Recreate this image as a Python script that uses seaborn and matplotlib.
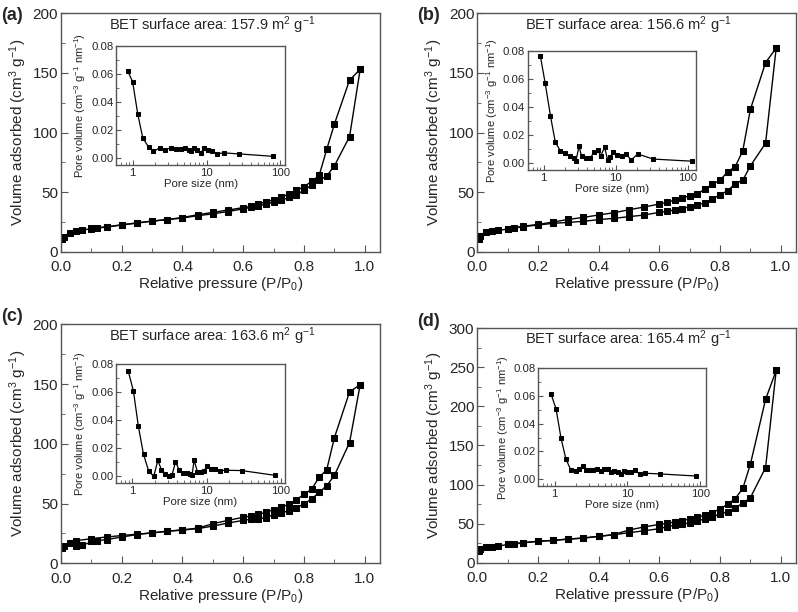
import numpy as np
import seaborn as sns
import matplotlib.pyplot as plt
from matplotlib.ticker import MultipleLocator

sns.set_style("ticks")
plt.rcParams['font.family'] = ['Liberation Sans', 'DejaVu Sans']
plt.rcParams['mathtext.fontset'] = 'custom'
plt.rcParams['mathtext.rm'] = 'Liberation Sans'
plt.rcParams['mathtext.it'] = 'Liberation Sans:italic'
plt.rcParams['mathtext.default'] = 'regular'

# relative pressure points
p_ads = [0.005, 0.01, 0.03, 0.05, 0.07, 0.1, 0.12, 0.15, 0.2, 0.25, 0.3, 0.35, 0.4, 0.45, 0.5,
         0.55, 0.6, 0.625, 0.65, 0.675, 0.7, 0.725, 0.75, 0.775, 0.8, 0.825, 0.85, 0.875, 0.9, 0.95, 0.985]
p_des = [0.985, 0.95, 0.9, 0.875, 0.85, 0.825, 0.8, 0.775, 0.75, 0.725, 0.7, 0.675, 0.65, 0.625,
         0.6, 0.55, 0.5, 0.45, 0.4, 0.35, 0.3, 0.25, 0.2, 0.15, 0.1]
p_ads_c = [0.005, 0.01, 0.03, 0.05, 0.1, 0.15, 0.2, 0.25, 0.3, 0.35, 0.4, 0.45, 0.5,
           0.55, 0.6, 0.625, 0.65, 0.675, 0.7, 0.725, 0.75, 0.775, 0.8, 0.825, 0.85, 0.875, 0.9, 0.95, 0.985]
p_des_c = p_des + [0.12, 0.07, 0.05]

# isotherms (cm3/g)
ads_a = [10.6, 12.5, 16, 17.3, 18.2, 19.3, 19.9, 20.7, 22.4, 24, 25.7, 26.9, 28.3, 30.2, 31.8,
         33.7, 36, 37.2, 38.5, 40, 41.5, 43, 45.5, 48, 51.5, 56, 60, 63.5, 72, 96.5, 153]
des_a = [153, 144, 107, 86, 64, 59, 54.5, 51.5, 48.5, 45.5, 43.5, 42, 40, 38, 37, 35, 33, 31,
         28.7, 27, 25.7, 24.2, 22.6, 20.9, 19.5]
ads_b = [10.3, 13, 16.2, 17.3, 17.9, 19, 19.6, 21, 22.4, 23.8, 24.6, 25.5, 26.9, 28, 29.4,
         30.8, 33, 33.8, 35, 36, 37.8, 39.4, 40.8, 44.2, 47.8, 51.2, 57, 60, 72, 91, 171]
des_b = [171, 158.6, 119.4, 84.8, 71.3, 67, 60, 56.5, 52.6, 48.4, 46.7, 45.3, 43.4, 41.4, 40,
         37.5, 35.2, 32.7, 30.8, 28.8, 27.1, 24.9, 22.9, 21.3, 19.3]
ads_c = [12.7, 14.5, 17, 18.9, 20.6, 22, 23.2, 24.4, 25.4, 26.7, 27.8, 29, 31.1,
         33.7, 35.9, 36.8, 37.3, 38.2, 40.7, 42.4, 43.8, 46.4, 49.8, 53.7, 59.4, 65, 73.5, 101, 149.6]
des_c = [149.6, 143.4, 105, 78.4, 71.9, 62, 57.7, 53.2, 49.2, 47.2, 45, 42.7, 41, 39.6, 38.5,
         35.9, 33.1, 29.4, 28, 26.9, 25.5, 24, 22, 19.8, 18.4, 18.7, 15.5, 14.7]
ads_d = [15.4, 17, 19.7, 20.3, 21.2, 23.3, 23.7, 25.4, 27.2, 28.4, 30.1, 31.4, 33.6, 35.7, 38.4,
         40.8, 43.5, 46, 47.8, 49, 51.2, 53.3, 56.3, 59, 61.9, 65.3, 70.4, 76, 83.2, 121.6, 246]
des_d = [246, 209, 126, 95, 82, 74.7, 69, 64, 61, 58, 56, 53.8, 52, 50.4, 49, 45.7, 41.8, 36,
         33.8, 31.6, 30.3, 28.6, 27.4, 25.6, 23.5]

# pore size distributions
size_a = [0.856, 1.0, 1.17, 1.37, 1.65, 1.9, 2.34, 2.76, 3.3, 3.85, 4.5, 5.15, 5.7, 6.2, 6.8,
          7.5, 8.4, 9.3, 10.3, 12.0, 14.0, 17.3, 27.6, 78]
pv_a = [0.0621, 0.0542, 0.0315, 0.0143, 0.0076, 0.0048, 0.0072, 0.006, 0.0072, 0.0064, 0.0067,
        0.0072, 0.006, 0.0053, 0.0072, 0.0055, 0.0036, 0.0072, 0.0055, 0.0048, 0.0031, 0.0036,
        0.0029, 0.0012]
size_b = [0.9, 1.05, 1.24, 1.45, 1.7, 2.0, 2.3, 2.6, 2.8, 3.1, 3.35, 3.9, 4.4, 5.0, 5.6, 6.2,
          7.0, 7.7, 8.4, 9.3, 10.4, 12.2, 14.0, 16.3, 20.2, 33, 113]
pv_b = [0.076, 0.0567, 0.0337, 0.0147, 0.0088, 0.0071, 0.0047, 0.0033, 0.0017, 0.0119, 0.0047,
        0.0033, 0.0033, 0.0076, 0.0093, 0.0052, 0.0112, 0.0024, 0.004, 0.0081, 0.0057, 0.0052,
        0.0064, 0.0021, 0.0064, 0.0028, 0.0013]
size_c = [0.874, 1.03, 1.2, 1.41, 1.66, 1.94, 2.2, 2.46, 2.79, 3.1, 3.43, 3.81, 4.27, 4.83,
          5.37, 5.96, 6.4, 6.8, 7.55, 8.4, 9.3, 10.0, 11.4, 12.9, 15.1, 18.6, 29.8, 84]
pv_c = [0.0754, 0.061, 0.0359, 0.0157, 0.0036, 0.0, 0.0113, 0.0048, 0.0017, 0.0, 0.0012, 0.0101,
        0.0048, 0.0022, 0.0022, 0.0017, 0.0012, 0.0116, 0.0031, 0.0031, 0.0036, 0.0072, 0.0055,
        0.0053, 0.0041, 0.0043, 0.0041, 0.0007]
size_d = [0.9, 1.05, 1.23, 1.43, 1.67, 1.96, 2.17, 2.43, 2.69, 3.05, 3.38, 3.83, 4.29, 4.8, 5.38,
          5.97, 6.6, 7.35, 8.1, 9.0, 10.0, 11.1, 12.7, 14.8, 17.6, 28.1, 87.6]
pv_d = [0.0612, 0.0507, 0.0294, 0.0147, 0.0066, 0.0061, 0.0071, 0.0091, 0.0066, 0.0066, 0.0066,
        0.0071, 0.0056, 0.0071, 0.0071, 0.0054, 0.0061, 0.0049, 0.0037, 0.0059, 0.0049, 0.0054,
        0.0066, 0.0034, 0.0042, 0.0037, 0.0022]

labels = ["(a)", "(b)", "(c)", "(d)"]
bet = ["157.9", "156.6", "163.6", "165.4"]
ymax = [200, 200, 200, 300]

frame = '#555555'

fig = plt.figure(figsize=(7.98, 6.12), dpi=100)

main_pos = [[0.0764, 0.5887, 0.3997, 0.3895],
            [0.598, 0.5887, 0.3994, 0.3895],
            [0.0764, 0.0796, 0.3997, 0.3905],
            [0.598, 0.0806, 0.3994, 0.383]]
inset_pos = [[0.1457, 0.7304, 0.2114, 0.1949],
             [0.6613, 0.7222, 0.2109, 0.1949],
             [0.1454, 0.2103, 0.2118, 0.1944],
             [0.6746, 0.2059, 0.2102, 0.1923]]
label_pos = [(0.002, 0.975), (0.523, 0.975), (0.002, 0.483), (0.523, 0.475)]
inset_xmax = [115, 130, 115, 120]

iso = [(p_ads, ads_a, p_des, des_a), (p_ads, ads_b, p_des, des_b),
       (p_ads_c, ads_c, p_des_c, des_c), (p_ads, ads_d, p_des, des_d)]
psd = [(size_a, pv_a), (size_b, pv_b), (size_c, pv_c), (size_d, pv_d)]


def style_axes(ax, fs):
    for s in ax.spines.values():
        s.set_color(frame)
        s.set_linewidth(1.0)
    ax.tick_params(which='both', direction='in', color=frame, top=False, right=False,
                   labelsize=fs)


for i in range(4):
    ax = fig.add_axes(main_pos[i])
    pa, va, pd_, vd = iso[i]
    sns.lineplot(x=pa, y=va, ax=ax, color='black', marker='s', markersize=4.8, linewidth=1,
                 markeredgecolor='black', sort=False, estimator=None)
    sns.lineplot(x=pd_, y=vd, ax=ax, color='black', marker='s', markersize=4.8, linewidth=1,
                 markeredgecolor='black', sort=False, estimator=None)
    ax.set_xlim(0, 1.05)
    ax.set_ylim(0, ymax[i])
    ax.xaxis.set_major_locator(MultipleLocator(0.2))
    ax.xaxis.set_minor_locator(MultipleLocator(0.1))
    ax.yaxis.set_major_locator(MultipleLocator(50))
    ax.yaxis.set_minor_locator(MultipleLocator(25))
    ax.xaxis.set_major_formatter(plt.FuncFormatter(lambda v, _: f"{v:.1f}"))
    style_axes(ax, 11)
    ax.tick_params(which='major', length=5)
    ax.tick_params(which='minor', length=3)
    ax.tick_params(axis='x', pad=6)
    ax.tick_params(axis='y', pad=2)
    ax.set_xlabel("Relative pressure (P/P$_0$)", fontsize=11, labelpad=1)
    ax.set_ylabel("Volume adsorbed (cm$^3$ g$^{-1}$)", fontsize=11, labelpad=3)
    ax.text(0.475, 0.952, f"BET surface area: {bet[i]} m$^2$ g$^{{-1}}$", transform=ax.transAxes,
            ha='center', va='center', fontsize=10.5)
    fig.text(label_pos[i][0], label_pos[i][1], labels[i], fontsize=13, fontweight='bold',
             ha='left', va='center')

    ins = fig.add_axes(inset_pos[i])
    sx, sy = psd[i]
    sns.lineplot(x=sx, y=sy, ax=ins, color='black', marker='s', markersize=2.8, linewidth=0.9,
                 markeredgecolor='black', sort=False, estimator=None)
    ins.set_xscale('log')
    ins.set_xlim(0.6, inset_xmax[i])
    ins.set_ylim(-0.005, 0.08)
    ins.set_xticks([1, 10, 100])
    ins.set_xticklabels(["1", "10", "100"])
    ins.yaxis.set_major_locator(MultipleLocator(0.02))
    ins.yaxis.set_minor_locator(MultipleLocator(0.01))
    ins.yaxis.set_major_formatter(plt.FuncFormatter(lambda v, _: f"{v:.2f}"))
    style_axes(ins, 8.2)
    ins.tick_params(which='major', length=3.5, pad=2)
    ins.tick_params(which='minor', length=2)
    ins.set_xlabel("Pore size (nm)", fontsize=8.2, labelpad=1)
    ins.set_ylabel("Pore volume (cm$^{-3}$ g$^{-1}$ nm$^{-1}$)", fontsize=8, labelpad=2)

fig.savefig("out.png", dpi=100)
